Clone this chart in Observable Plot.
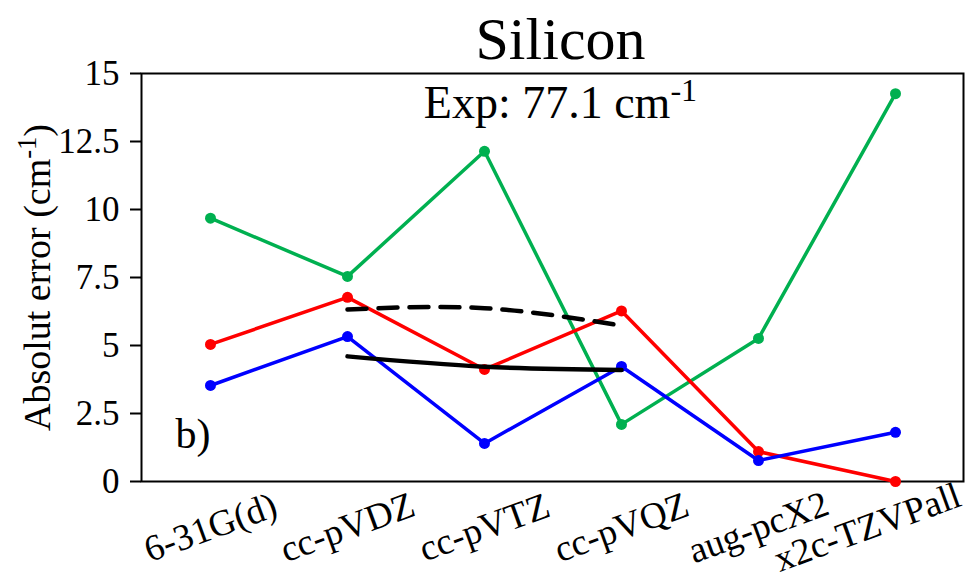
<!DOCTYPE html>
<html><head><meta charset="utf-8">
<script src="https://cdn.jsdelivr.net/npm/d3@7"></script>
<script src="https://cdn.jsdelivr.net/npm/@observablehq/plot@0.6"></script>
<style>body{margin:0;background:#fff} svg{font-family:"Liberation Serif","Times New Roman",serif}</style>
</head><body><div id="chart"></div>
<script>
const basisSets = ["6-31G(d)", "cc-pVDZ", "cc-pVTZ", "cc-pVQZ", "aug-pcX2", "x2c-TZVPall"];
const greenValues = [9.68, 7.54, 12.14, 2.10, 5.26, 14.26];
const redValues = [5.04, 6.77, 4.12, 6.27, 1.10, 0.0];
const blueValues = [3.53, 5.33, 1.40, 4.23, 0.77, 1.81];
const fitSets = ["cc-pVDZ", "cc-pVTZ", "cc-pVQZ"];
const solidFit = [4.60, 4.22, 4.10];
const dashedFit = [6.32, 6.37, 5.73];
const yTicks = [0, 2.5, 5, 7.5, 10, 12.5, 15];
const titleText = "Silicon";
const expText = "Exp: 77.1 cm^-1";
const yLabel = "Absolut error (cm^-1)";
const panelLabel = "b)";

const toRows = (vals, cats) => vals.map((v, i) => ({basis: cats[i], value: v}));
const series = [
  {rows: toRows(greenValues, basisSets), color: "#00b050"},
  {rows: toRows(redValues, basisSets), color: "#ff0000"},
  {rows: toRows(blueValues, basisSets), color: "#0000ff"}
];

const tickTextOpts = {x: d => d, text: d => d, frameAnchor: "bottom", dy: 46, rotate: -20, fontSize: 37, textAnchor: "middle", lineAnchor: "middle", fill: "black"};
const marks = [
  Plot.frame({stroke: "black", strokeWidth: 2}),
  Plot.axisY({ticks: yTicks, tickSize: 11, tickPadding: 11, fontSize: 35, label: null, strokeWidth: 2, tickFormat: d => String(d)}),
  Plot.text(basisSets.slice(0, 5), tickTextOpts),
  Plot.text(basisSets.slice(5), {...tickTextOpts, dx: -28})
];
for (const s of series) {
  marks.push(Plot.line(s.rows, {x: "basis", y: "value", stroke: s.color, strokeWidth: 3.5}));
  marks.push(Plot.dot(s.rows, {x: "basis", y: "value", fill: s.color, r: 5.5}));
}
marks.push(
  Plot.line(toRows(solidFit, fitSets), {x: "basis", y: "value", curve: "natural", stroke: "black", strokeWidth: 4.5}),
  Plot.line(toRows(dashedFit, fitSets), {x: "basis", y: "value", curve: "natural", stroke: "black", strokeWidth: 4.5, strokeDasharray: "19,12"}),
  Plot.text([titleText], {text: d => d, frameAnchor: "top", dx: 8, dy: -15, lineAnchor: "bottom", fontSize: 60, fill: "black"}),
  Plot.text([expText], {text: d => d, frameAnchor: "top", dx: 8, dy: 44, lineAnchor: "bottom", fontSize: 46, fill: "black"}),
  Plot.text([panelLabel], {text: d => d, frameAnchor: "bottom-left", dx: 34, dy: -34, textAnchor: "start", lineAnchor: "bottom", fontSize: 42, fill: "black"}),
  Plot.text([yLabel], {text: d => d, frameAnchor: "left", dx: -104, dy: 0, rotate: -90, fontSize: 38, fill: "black", textAnchor: "middle", lineAnchor: "middle"})
);

const chart = Plot.plot({
  width: 970, height: 587,
  marginLeft: 141, marginRight: 7, marginTop: 73, marginBottom: 106,
  style: {fontFamily: '"Liberation Serif","Times New Roman",serif', background: "white", color: "black", overflow: "visible"},
  x: {type: "point", domain: basisSets, padding: 0.48, axis: null},
  y: {domain: [0, 15]},
  marks
});

chart.querySelectorAll("text").forEach(t => {
  const content = t.textContent;
  if (!content.includes("^-1")) return;
  const [a, b] = content.split("^-1");
  const ns = "http://www.w3.org/2000/svg";
  while (t.firstChild) t.removeChild(t.firstChild);
  const t1 = document.createElementNS(ns, "tspan"); t1.textContent = a; t.appendChild(t1);
  const t2 = document.createElementNS(ns, "tspan"); t2.textContent = "-1";
  t2.setAttribute("font-size", "70%"); t2.setAttribute("dy", "-0.5em"); t.appendChild(t2);
  if (b) { const t3 = document.createElementNS(ns, "tspan"); t3.textContent = b; t3.setAttribute("dy", "0.35em"); t.appendChild(t3); }
});

document.getElementById("chart").appendChild(chart);
</script>
</body></html>
